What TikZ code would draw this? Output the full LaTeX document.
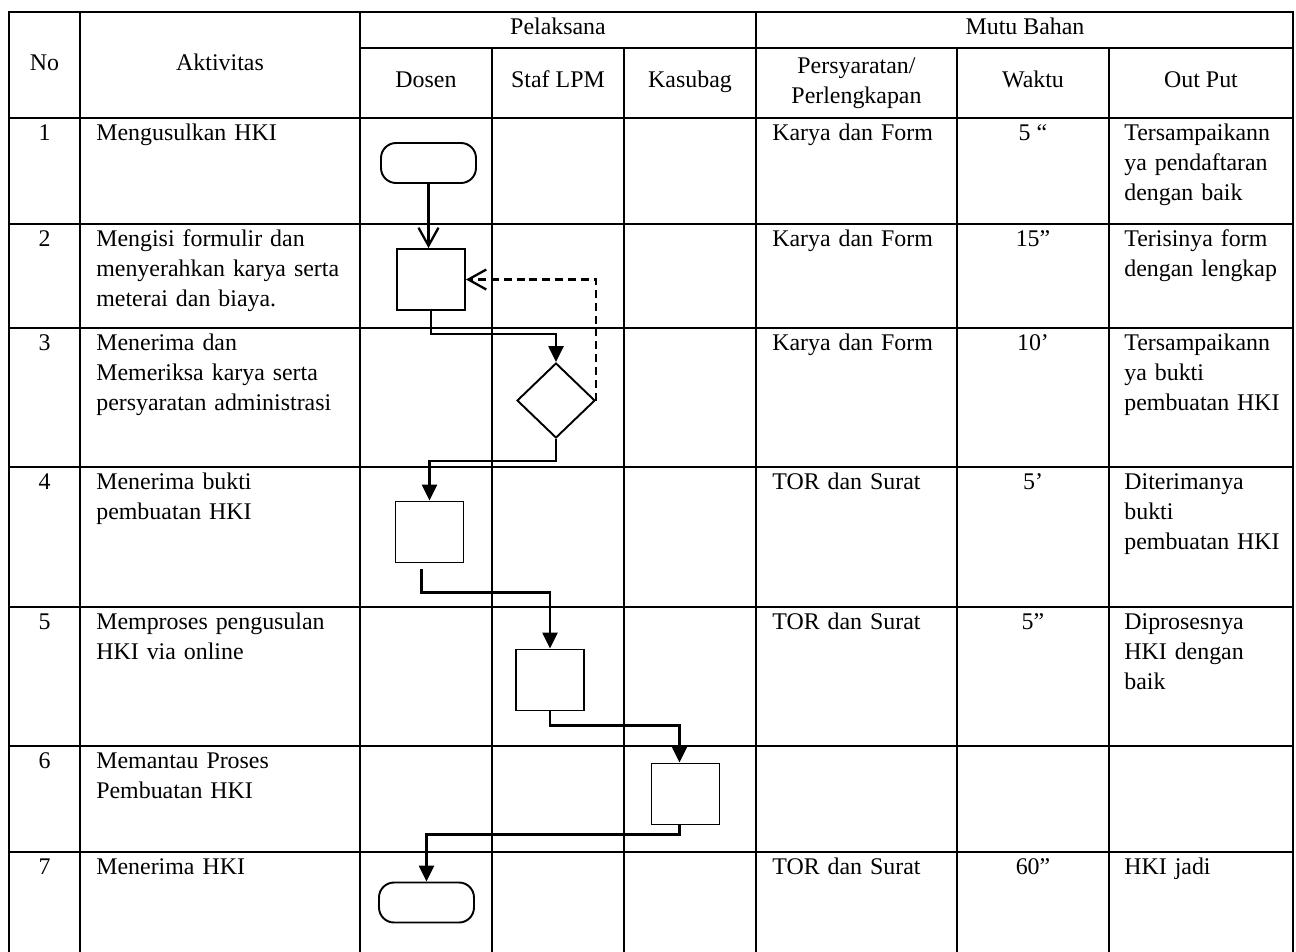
\documentclass[tikz,border=0pt]{standalone}
\usepackage{fontspec}
\setmainfont{Liberation Serif}
\usetikzlibrary{arrows.meta,shapes.geometric}

\begin{document}
\begin{tikzpicture}[x=0.02cm, y=-0.02cm,
  every node/.style={font=\fontsize{13.6pt}{17.3pt}\selectfont, inner sep=0pt},
  grid/.style={line width=1.2pt, line cap=rect},
  cell/.style={anchor=base west, text width=6cm, align=left},
  mid/.style={anchor=base},
  proc/.style={draw, line width=1.1pt, minimum width=1.36cm, minimum height=1.22cm},
  term/.style={draw, line width=1.1pt, rounded corners=0.3cm, minimum width=1.9cm, minimum height=0.8cm},
  check/.style={draw, diamond, line width=1.1pt, minimum width=1.56cm, minimum height=1.5cm},
  flow/.style={line width=1.4pt, -{Triangle[length=3.2mm,width=3mm]}},
  back/.style={line width=1.3pt, -{Straight Barb[length=3.6mm,width=4mm]}}]
  \useasboundingbox (0,0) rectangle (1296,951);

  % table
  \draw[grid] (9,12) -- (1293,12);
  \draw[grid] (360,48) -- (1293,48);
  \draw[grid] (9,118) -- (1293,118);
  \draw[grid] (9,224) -- (1293,224);
  \draw[grid] (9,328) -- (1293,328);
  \draw[grid] (9,467) -- (1293,467);
  \draw[grid] (9,607) -- (1293,607);
  \draw[grid] (9,746) -- (1293,746);
  \draw[grid] (9,852) -- (1293,852);
  \draw[grid] (9,12) -- (9,951);
  \draw[grid] (80,12) -- (80,951);
  \draw[grid] (360,12) -- (360,951);
  \draw[grid] (756,12) -- (756,951);
  \draw[grid] (1293,12) -- (1293,951);
  \draw[grid] (492,48) -- (492,951);
  \draw[grid] (624,48) -- (624,951);
  \draw[grid] (957,48) -- (957,951);
  \draw[grid] (1109,48) -- (1109,951);

  % header
  \node[mid] (hno) at (44.5,70) {No};
  \node[mid] (hakt) at (220,70) {Aktivitas};
  \node[mid] (hpel) at (558,34) {Pelaksana};
  \node[mid] (hmutu) at (1025,34) {Mutu Bahan};
  \node[mid] (hdosen) at (426,87) {Dosen};
  \node[mid] (hstaf) at (558,87) {Staf LPM};
  \node[mid] (hkasubag) at (690,87) {Kasubag};
  \node[mid, text width=5cm, align=center] (hsyarat) at (856.5,73) {Persyaratan/\\Perlengkapan};
  \node[mid] (hwaktu) at (1033,87) {Waktu};
  \node[mid] (hout) at (1201,87) {Out Put};

  % rows
  \node[mid] (no1) at (44.5,140) {1};
  \node[cell] (akt1) at (96,140) {Mengusulkan HKI};
  \node[cell] (syarat1) at (772,140) {Karya dan Form};
  \node[mid] (waktu1) at (1033,140) {5 “};
  \node[cell] (out1) at (1124,140) {Tersampaikann\\ya pendaftaran\\dengan baik};

  \node[mid] (no2) at (44.5,246) {2};
  \node[cell] (akt2) at (96,246) {Mengisi formulir dan\\menyerahkan karya serta\\meterai dan biaya.};
  \node[cell] (syarat2) at (772,246) {Karya dan Form};
  \node[mid] (waktu2) at (1033,246) {15”};
  \node[cell] (out2) at (1124,246) {Terisinya form\\dengan lengkap};

  \node[mid] (no3) at (44.5,350) {3};
  \node[cell] (akt3) at (96,350) {Menerima dan\\Memeriksa karya serta\\persyaratan administrasi};
  \node[cell] (syarat3) at (772,350) {Karya dan Form};
  \node[mid] (waktu3) at (1033,350) {10’};
  \node[cell] (out3) at (1124,350) {Tersampaikann\\ya bukti\\pembuatan HKI};

  \node[mid] (no4) at (44.5,489) {4};
  \node[cell] (akt4) at (96,489) {Menerima bukti\\pembuatan HKI};
  \node[cell] (syarat4) at (772,489) {TOR dan Surat};
  \node[mid] (waktu4) at (1033,489) {5’};
  \node[cell] (out4) at (1124,489) {Diterimanya\\bukti\\pembuatan HKI};

  \node[mid] (no5) at (44.5,629) {5};
  \node[cell] (akt5) at (96,629) {Memproses pengusulan\\HKI via online};
  \node[cell] (syarat5) at (772,629) {TOR dan Surat};
  \node[mid] (waktu5) at (1033,629) {5”};
  \node[cell] (out5) at (1124,629) {Diprosesnya\\HKI dengan\\baik};

  \node[mid] (no6) at (44.5,768) {6};
  \node[cell] (akt6) at (96,768) {Memantau Proses\\Pembuatan HKI};

  \node[mid] (no7) at (44.5,874) {7};
  \node[cell] (akt7) at (96,874) {Menerima HKI};
  \node[cell] (syarat7) at (772,874) {TOR dan Surat};
  \node[mid] (waktu7) at (1033,874) {60”};
  \node[cell] (out7) at (1124,874) {HKI jadi};

  % flow
  \node[term] (start) at (428.5,163) {};
  \node[proc] (b2) at (431,279.5) {};
  \node[check] (d3) at (556,400.5) {};
  \node[proc] (b4) at (429.5,532) {};
  \node[proc] (b5) at (550,680) {};
  \node[proc] (b6) at (685.5,794) {};
  \node[term] (end) at (426.5,902.5) {};

  \draw[back] (start.south) -- (start.south |- b2.north);
  \draw[flow] (b2.south) -- ++(0,23) -| (d3.north);
  \draw[back, dash pattern=on 4.5pt off 2.8pt] (d3.east) |- (b2.east);
  \draw[flow] (d3.south) -- ++(0,22) -| (b4.north);
  \draw[flow] ([shift={(-8,6)}]b4.south) -- ++(0,23) -| (b5.north);
  \draw[flow] (b5.south) -- ++(0,14) -| ([shift={(-6,0)}]b6.north);
  \draw[flow] ([shift={(-6,0)}]b6.south) -- ++(0,9) -| (end.north);

\end{tikzpicture}
\end{document}
